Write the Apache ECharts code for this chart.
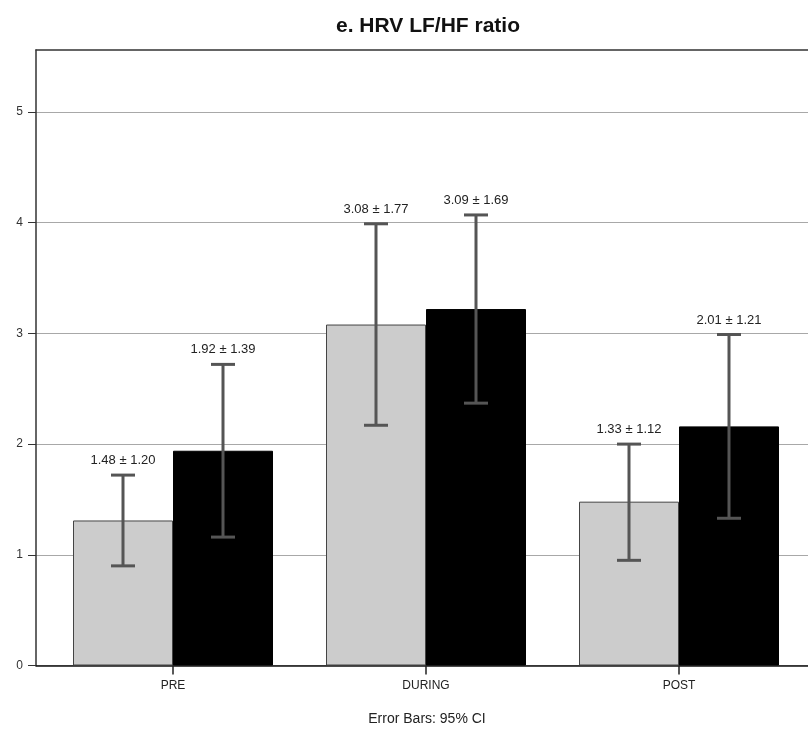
<!DOCTYPE html>
<html>
<head>
<meta charset="utf-8">
<script src="https://cdn.jsdelivr.net/npm/echarts@6/dist/echarts.min.js"></script>
<style>
  html, body { margin: 0; padding: 0; background: #fff; }
  #chart { width: 808px; height: 731px; }
</style>
</head>
<body>
<div id="chart"></div>
<script>
// data
var categories = ['PRE', 'DURING', 'POST'];
var grayMean = [1.31, 3.08, 1.48];
var blackMean = [1.94, 3.22, 2.16];
var grayLow = [0.90, 2.17, 0.95];
var grayHigh = [1.72, 3.99, 2.00];
var blackLow = [1.16, 2.37, 1.33];
var blackHigh = [2.72, 4.07, 2.99];
var grayLabels = ['1.48 \u00b1 1.20', '3.08 \u00b1 1.77', '1.33 \u00b1 1.12'];
var blackLabels = ['1.92 \u00b1 1.39', '3.09 \u00b1 1.69', '2.01 \u00b1 1.21'];
var yTicks = [0, 1, 2, 3, 4, 5];

var FONT = '"Liberation Sans", Arial, sans-serif';
var BAR_W = 100;
var Y_MAX = 5.56;

var chart = echarts.init(document.getElementById('chart'));

// error bar renderer, side = -1 (gray, left) or 1 (black, right)
function errRenderer(side, labels) {
    return function (params, api) {
        var c = api.value(0);
        var lo = api.coord([c, api.value(1)]);
        var hi = api.coord([c, api.value(2)]);
        var x = lo[0] + side * BAR_W / 2;
        var cap = 12;
        var st = { stroke: '#555', lineWidth: 3 };
        return {
            type: 'group',
            children: [
                { type: 'line', shape: { x1: x, y1: lo[1], x2: x, y2: hi[1] }, style: st },
                { type: 'line', shape: { x1: x - cap, y1: lo[1], x2: x + cap, y2: lo[1] }, style: st },
                { type: 'line', shape: { x1: x - cap, y1: hi[1], x2: x + cap, y2: hi[1] }, style: st },
                {
                    type: 'text',
                    style: {
                        x: x, y: hi[1] - 8,
                        text: labels[params.dataIndex],
                        align: 'center', verticalAlign: 'bottom',
                        font: '13px ' + FONT, fill: '#222'
                    }
                }
            ]
        };
    };
}

function errData(low, high) {
    return categories.map(function (c, i) { return [i, low[i], high[i]]; });
}

var option = {
    animation: false,
    backgroundColor: '#fff',
    title: [
        {
            text: 'e. HRV LF/HF ratio',
            left: 423, top: 11, textAlign: 'center',
            textStyle: { fontFamily: FONT, fontSize: 21, fontWeight: 'bold', color: '#111' }
        },
        {
            text: 'Error Bars: 95% CI',
            left: 422, top: 707, textAlign: 'center',
            textStyle: { fontFamily: FONT, fontSize: 14, fontWeight: 'normal', color: '#222' }
        }
    ],
    grid: [
        { left: 36, right: -12, top: 50, bottom: 65.5 },
        { left: 46.5, right: 2.5, top: 50, bottom: 65.5 }
    ],
    xAxis: [
        {
            type: 'value', gridIndex: 0, min: 0, max: 1, position: 'bottom',
            axisLine: { show: true, lineStyle: { color: '#111', width: 1.5 } },
            axisTick: { show: false }, axisLabel: { show: false }, splitLine: { show: false }
        },
        {
            type: 'value', gridIndex: 0, min: 0, max: 1, position: 'top',
            axisLine: { show: true, lineStyle: { color: '#333', width: 1.5 } },
            axisTick: { show: false }, axisLabel: { show: false }, splitLine: { show: false }
        },
        {
            type: 'category', gridIndex: 1, data: categories, boundaryGap: true,
            axisLine: { show: false },
            axisTick: { show: true, alignWithLabel: true, length: 9, lineStyle: { color: '#222', width: 1.5 } },
            axisLabel: { fontFamily: FONT, fontSize: 12, color: '#222', margin: 14 }
        }
    ],
    yAxis: [
        {
            type: 'value', gridIndex: 0, min: 0, max: Y_MAX, interval: 1,
            axisLine: { show: true, lineStyle: { color: '#333', width: 1.5 } },
            axisTick: { show: true, length: 8, customValues: yTicks, lineStyle: { color: '#333' } },
            axisLabel: {
                fontFamily: FONT, fontSize: 12, color: '#333', margin: 13,
                customValues: yTicks
            },
            splitLine: { show: true, lineStyle: { color: '#a8a8a8', width: 1 } }
        },
        { type: 'value', gridIndex: 1, min: 0, max: Y_MAX, show: false }
    ],
    series: [
        {
            type: 'bar', xAxisIndex: 2, yAxisIndex: 1, data: grayMean,
            barWidth: BAR_W, barGap: '0%',
            itemStyle: { color: '#cccccc', borderColor: '#444', borderWidth: 1 }
        },
        {
            type: 'bar', xAxisIndex: 2, yAxisIndex: 1, data: blackMean,
            barWidth: BAR_W, barGap: '0%',
            itemStyle: { color: '#000', borderColor: '#000', borderWidth: 1 }
        },
        {
            type: 'custom', xAxisIndex: 2, yAxisIndex: 1, z: 5,
            data: errData(grayLow, grayHigh), encode: { x: 0, y: [1, 2] },
            renderItem: errRenderer(-1, grayLabels)
        },
        {
            type: 'custom', xAxisIndex: 2, yAxisIndex: 1, z: 5,
            data: errData(blackLow, blackHigh), encode: { x: 0, y: [1, 2] },
            renderItem: errRenderer(1, blackLabels)
        }
    ]
};

chart.setOption(option);
</script>
</body>
</html>
